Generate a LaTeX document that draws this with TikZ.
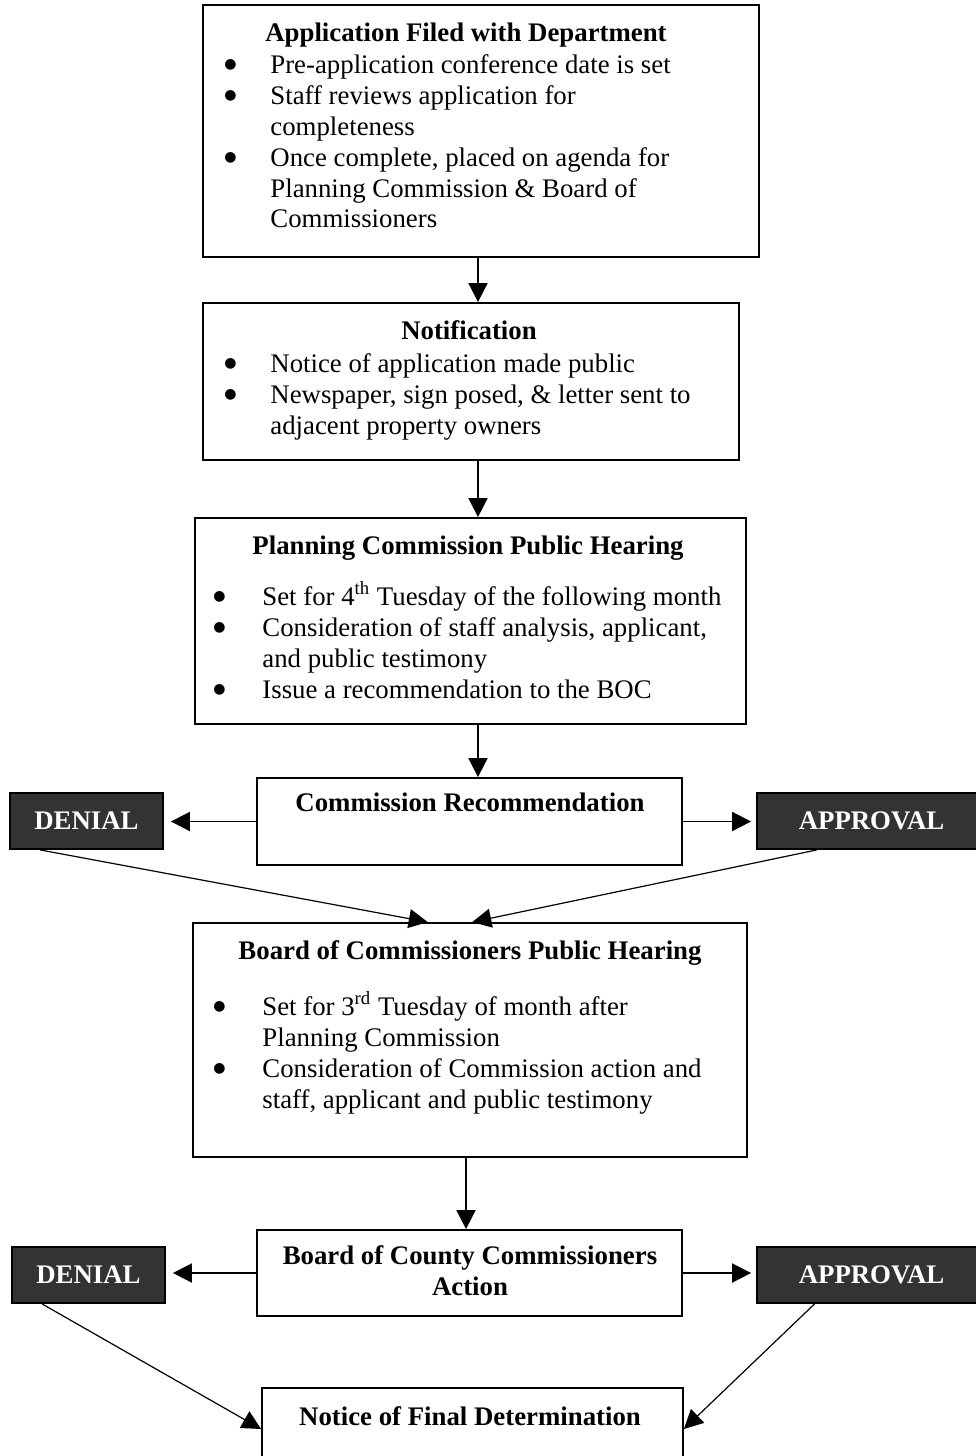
\documentclass[tikz,border=0pt]{standalone}
\usepackage{fontspec}
\setmainfont{Liberation Serif}
\newfontfamily\dotfont{DejaVu Sans}
\usepackage{tikz}
\usetikzlibrary{calc}
\usetikzlibrary{arrows.meta}
\usetikzlibrary{positioning}

\definecolor{darkbox}{HTML}{333333}
\newcommand{\bul}[1][22pt]{\makebox[#1][l]{\hspace*{-1pt}\raisebox{2.4pt}{\dotfont\fontsize{7}{7}\selectfont ●}}}
\newcommand{\txtsize}{\fontsize{13.4}{15.5}\selectfont}

\tikzset{
    box/.style={draw, line width=0.9pt, inner sep=0pt},
    darknode/.style={draw, line width=0.9pt, fill=darkbox, text=white, inner sep=0pt,
        font=\txtsize\bfseries},
    ttl/.style={anchor=base, inner sep=0pt, font=\txtsize\bfseries, align=center},
    lst/.style={anchor=base west, inner sep=0pt, font=\txtsize},
    arr/.style={line width=0.9pt, -{Triangle[length=9.5pt, width=9.5pt]}},
    darr/.style={line width=0.6pt, -{Triangle[length=9.5pt, width=9.5pt]}}
}

\begin{document}
\begin{tikzpicture}[x=0.5pt, y=-0.5pt]
            \useasboundingbox (0,0) rectangle (975,1456);

            \coordinate (c1) at (478,0);
            \coordinate (c2) at (466,0);

            % main boxes
            \node[box, minimum width=278pt, minimum height=126pt] (b1) at (481,131) {};
            \node[box, minimum width=268pt, minimum height=78.5pt] (b2) at (471,381.5) {};
            \node[box, minimum width=275.5pt, minimum height=103pt] (b3) at (470.5,621) {};
            \node[box, minimum width=212.5pt, minimum height=43.5pt] (b4) at (469.5,821.5) {};
            \node[box, minimum width=277pt, minimum height=117pt] (b5) at (470,1040) {};
            \node[box, minimum width=212.5pt, minimum height=43pt] (b6) at (469.5,1273) {};
            \node[box, minimum width=210.5pt, minimum height=41pt] (b7) at (472.5,1429) {};

            % outcomes
            \node[darknode, minimum width=76.5pt, minimum height=28pt] (d1) at (86.5,821) {DENIAL};
            \node[darknode, minimum width=111.5pt, minimum height=28pt] (a1) at (868.5,821) {\hspace*{3pt}APPROVAL};
            \node[darknode, minimum width=76.5pt, minimum height=28pt] (d2) at (88.5,1275) {DENIAL};
            \node[darknode, minimum width=111.5pt, minimum height=28pt] (a2) at (868.5,1275) {\hspace*{3pt}APPROVAL};

            % titles
            \node[ttl] (b1t) at (466,41) {Application Filed with Department};
            \node[ttl] (b2t) at (469,339) {Notification};
            \node[ttl] (b3t) at (468,554) {Planning Commission Public Hearing};
            \node[ttl] (b4t) at (470,811) {Commission Recommendation};
            \node[ttl] (b5t) at (470,959) {Board of Commissioners Public Hearing};
            \node[ttl] (b6t) at (470,1295) {Board of County Commissioners\\Action};
            \node[ttl] (b7t) at (470,1425) {Notice of Final Determination};

            % bullet lists
            \node[lst] (b1l) at (226,73) {\begin{tabular}[t]{@{}l@{}l@{}}
                \bul & Pre-application conference date is set\\
                \bul & Staff reviews application for\\
                     & completeness\\
                \bul & Once complete, placed on agenda for\\
                     & Planning Commission \& Board of\\
                     & Commissioners
            \end{tabular}};
            \node[lst] (b2l) at (226,372) {\begin{tabular}[t]{@{}l@{}l@{}}
                \bul & Notice of application made public\\
                \bul & Newspaper, sign posed, \& letter sent to\\
                     & adjacent property owners
            \end{tabular}};
            \node[lst] (b3l) at (215,605) {\begin{tabular}[t]{@{}l@{}l@{}}
                \bul[23.5pt] & Set for 4\textsuperscript{th} Tuesday of the following month\\
                \bul[23.5pt] & Consideration of staff analysis, applicant,\\
                             & and public testimony\\
                \bul[23.5pt] & Issue a recommendation to the BOC
            \end{tabular}};
            \node[lst] (b5l) at (215,1015) {\begin{tabular}[t]{@{}l@{}l@{}}
                \bul[23.5pt] & Set for 3\textsuperscript{rd} Tuesday of month after\\
                             & Planning Commission\\
                \bul[23.5pt] & Consideration of Commission action and\\
                             & staff, applicant and public testimony
            \end{tabular}};

            % flow
            \draw[arr] (c1 |- b1.south) -- (c1 |- b2.north);
            \draw[arr] (c1 |- b2.south) -- (c1 |- b3.north);
            \draw[arr] (c1 |- b3.south) -- (c1 |- b4.north);
            \draw[arr] (c2 |- b5.south) -- (c2 |- b6.north);

            \draw[arr, shorten >=3.5pt] (b4.west) -- (b4.west -| d1.east);
            \draw[arr, shorten >=2.5pt] (b4.east) -- (b4.east -| a1.west);
            \draw[arr, shorten >=3.5pt] (b6.west) -- (b6.west -| d2.east);
            \draw[arr, shorten >=2.5pt] (b6.east) -- (b6.east -| a2.west);

            \draw[darr] ($(d1.south west)!0.2!(d1.south east)$) -- ($(b5.north west)!0.424!(b5.north east)$);
            \draw[darr] ($(a1.south west)!0.27!(a1.south east)$) -- ($(b5.north west)!0.504!(b5.north east)$);
            \draw[darr] ($(d2.south west)!0.2!(d2.south east)$) -- (b7.west);
            \draw[darr] ($(a2.south west)!0.26!(a2.south east)$) -- (b7.east);
        \end{tikzpicture}
\end{document}
